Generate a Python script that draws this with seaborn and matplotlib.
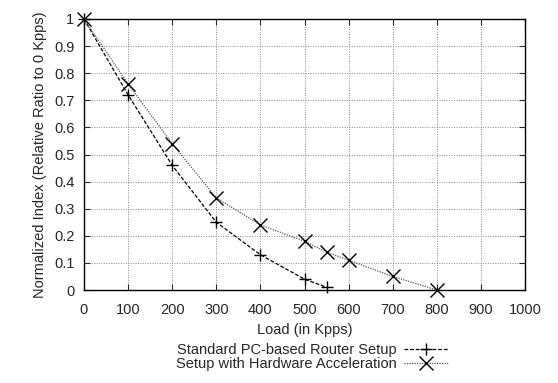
import numpy as np
import pandas as pd
import matplotlib
matplotlib.use("Agg")
import matplotlib.pyplot as plt
import seaborn as sns

# werte
load_std = [0, 100, 200, 300, 400, 500, 550]
idx_std = [1.0, 0.72, 0.46, 0.25, 0.13, 0.04, 0.01]
load_hw = [0, 100, 200, 300, 400, 500, 550, 600, 700, 800]
idx_hw = [1.0, 0.76, 0.54, 0.34, 0.24, 0.18, 0.14, 0.11, 0.05, 0.0]
label_std = "Standard PC-based Router Setup"
label_hw = "Setup with Hardware Acceleration"

sns.set_style("ticks")
plt.rcParams['font.family'] = ['Liberation Sans', 'DejaVu Sans']
fs = 10.5

fig = plt.figure(figsize=(5.58, 3.83), dpi=100)
ax = fig.add_axes([84/558, 1-290/383, (525-84)/558, (290-19)/383])

df_std = pd.DataFrame({"x": load_std, "y": idx_std})
df_hw = pd.DataFrame({"x": load_hw, "y": idx_hw})

sns.lineplot(data=df_std, x="x", y="y", ax=ax, color="black", lw=0.9,
             linestyle=(0, (3, 1.5)), marker="+", markersize=8, mew=1.0,
             mec="black", label=label_std, clip_on=False)
sns.lineplot(data=df_hw, x="x", y="y", ax=ax, color="#555555", lw=0.9,
             linestyle=(0, (1, 1)), marker="x", markersize=10, mew=1.0,
             mec="black", label=label_hw, clip_on=False)

ax.set_xlim(0, 1000)
ax.set_ylim(0, 1)
ax.set_xticks(np.arange(0, 1001, 100))
ax.set_yticks(np.arange(0, 1.01, 0.1))
ax.set_yticklabels(["0"] + ["%.1f" % v for v in np.arange(0.1, 1.0, 0.1)] + ["1"])
ax.grid(True, color="#888888", linestyle=(0, (1, 1.5)), lw=0.7)
ax.tick_params(direction="in", top=True, right=True, length=4, width=0.8,
               labelsize=fs, pad=7)
ax.tick_params(axis="x", pad=9)
for s in ax.spines.values():
    s.set_linewidth(1.0)
    s.set_color("black")

ax.set_xlabel("Load (in Kpps)", fontsize=fs, labelpad=5)
ax.set_ylabel("Normalized Index (Relative Ratio to 0 Kpps)", fontsize=fs, labelpad=5)

leg = ax.legend(loc="upper right", bbox_to_anchor=(448/558, 1-343/383),
                bbox_transform=fig.transFigure, frameon=False,
                markerfirst=False, handlelength=3.0, handletextpad=0.5,
                labelspacing=0.0, borderpad=0, borderaxespad=0, fontsize=fs)

fig.savefig("out.png", dpi=100)
